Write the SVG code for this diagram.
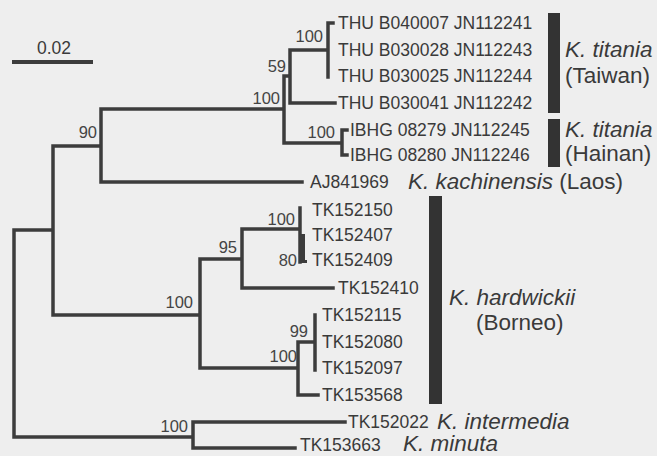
<svg xmlns="http://www.w3.org/2000/svg" width="657" height="456" viewBox="0 0 657 456">
<style>
.bg{fill:#eeeeee}
.br{fill:none;stroke:#3c3c3c;stroke-width:3.5;stroke-linecap:square}
.lf{font-family:"Liberation Sans",Arial,sans-serif;font-size:17.5px;fill:#3a3a3a}
.bs{font-family:"Liberation Sans",Arial,sans-serif;font-size:16.5px;fill:#444;text-anchor:end}
.sp{font-family:"Liberation Sans",Arial,sans-serif;font-size:22.5px;fill:#3a3a3a}
.it{font-style:italic}
.bar{fill:#333}
</style>
<rect class="bg" x="0" y="0" width="657" height="456"/>
<g id="scale">
<line x1="12" y1="62" x2="93" y2="62" stroke="#3c3c3c" stroke-width="4"/>
<text class="lf" x="54" y="54" text-anchor="middle" font-size="17">0.02</text>
</g>
<g id="connectors">
<path class="br" d="M14,230 V437 M14,230 H53 M53,146 V315 M53,146 H101 M101,109 V182 M101,109 H284 M284,76 V143 M284,76 H290 M290,50 V103 M290,50 H328 M328,23 V77 M328,23 H333 M290,103 H335 M284,143 H342 M342,130 V155 M342,130 H347 M342,155 H347 M101,182 H302 M53,315 H200 M200,259 V368 M200,259 H242 M242,229 V288 M242,229 H300 M300,208 V262 M242,288 H333 M200,368 H298 M298,342 V395 M298,342 H315 M315,315 V370 M298,395 H318 M14,437 H193 M193,422 V448 M193,422 H345 M193,448 H295"/>
<path d="M301,234 H305 V260 H307 V263 H301 Z" fill="#3c3c3c"/>
</g>
<g id="bootstrap">
<text class="bs" x="323" y="42">100</text>
<text class="bs" x="286" y="72">59</text>
<text class="bs" x="280" y="104">100</text>
<text class="bs" x="335" y="138">100</text>
<text class="bs" x="97" y="138">90</text>
<text class="bs" x="193" y="308">100</text>
<text class="bs" x="237" y="253">95</text>
<text class="bs" x="295" y="225">100</text>
<text class="bs" x="297" y="266">80</text>
<text class="bs" x="308" y="337">99</text>
<text class="bs" x="297" y="362">100</text>
<text class="bs" x="188" y="432">100</text>
</g>
<g id="leaf-THU-B040007"><text class="lf" x="338" y="29">THU B040007 JN112241</text></g>
<g id="leaf-THU-B030028"><text class="lf" x="338" y="56">THU B030028 JN112243</text></g>
<g id="leaf-THU-B030025"><text class="lf" x="338" y="82">THU B030025 JN112244</text></g>
<g id="leaf-THU-B030041"><text class="lf" x="338" y="109">THU B030041 JN112242</text></g>
<g id="leaf-IBHG-08279"><text class="lf" x="350" y="136">IBHG 08279 JN112245</text></g>
<g id="leaf-IBHG-08280"><text class="lf" x="350" y="161">IBHG 08280 JN112246</text></g>
<g id="leaf-AJ841969"><text class="lf" x="310" y="188">AJ841969</text><text class="sp" x="408" y="189"><tspan class="it">K. kachinensis</tspan> (Laos)</text></g>
<g id="leaf-TK152150"><text class="lf" x="312" y="216">TK152150</text></g>
<g id="leaf-TK152407"><text class="lf" x="312" y="241">TK152407</text></g>
<g id="leaf-TK152409"><text class="lf" x="312" y="266">TK152409</text></g>
<g id="leaf-TK152410"><text class="lf" x="338" y="294">TK152410</text></g>
<g id="leaf-TK152115"><text class="lf" x="322" y="321">TK152115</text></g>
<g id="leaf-TK152080"><text class="lf" x="322" y="348">TK152080</text></g>
<g id="leaf-TK152097"><text class="lf" x="322" y="374">TK152097</text></g>
<g id="leaf-TK153568"><text class="lf" x="322" y="401">TK153568</text></g>
<g id="leaf-TK152022"><text class="lf" x="348" y="428">TK152022</text><text class="sp it" x="437" y="429">K. intermedia</text></g>
<g id="leaf-TK153663"><text class="lf" x="300" y="451">TK153663</text><text class="sp it" x="403" y="451">K. minuta</text></g>
<g id="clade-taiwan">
<rect class="bar" x="548" y="13" width="12" height="100"/>
<text class="sp it" x="565" y="57">K. titania</text>
<text class="sp" x="565" y="83">(Taiwan)</text>
</g>
<g id="clade-hainan">
<rect class="bar" x="548" y="119" width="12" height="48"/>
<text class="sp it" x="565" y="137">K. titania</text>
<text class="sp" x="565" y="161">(Hainan)</text>
</g>
<g id="clade-borneo">
<rect class="bar" x="429" y="196" width="13" height="208"/>
<text class="sp it" x="449" y="305">K. hardwickii</text>
<text class="sp" x="476" y="330">(Borneo)</text>
</g>
</svg>
